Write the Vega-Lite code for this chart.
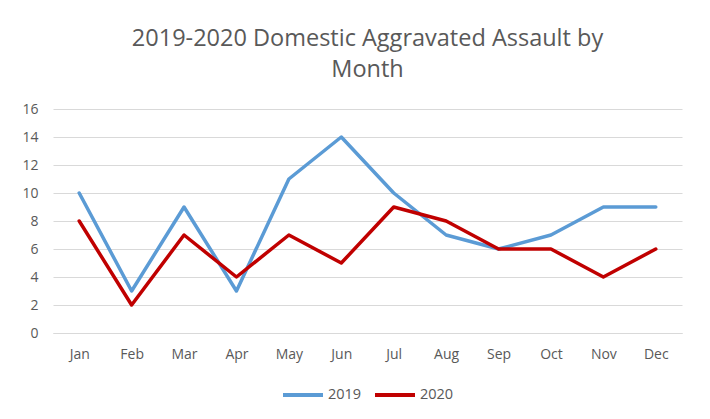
{
  "$schema": "https://vega.github.io/schema/vega-lite/v6.json",
  "autosize": "none",
  "width": 629,
  "height": 224,
  "padding": {"left": 53, "top": 109, "right": 28, "bottom": 86},
  "background": "white",
  "title": {
    "text": ["2019-2020 Domestic Aggravated Assault by", "Month"],
    "font": "Open Sans",
    "fontSize": 23.5,
    "fontWeight": "normal",
    "color": "#595959",
    "lineHeight": 31,
    "anchor": "middle",
    "offset": 21
  },
  "data": {
    "values": [
      {"month": "Jan", "year": "2019", "value": 10},
      {"month": "Feb", "year": "2019", "value": 3},
      {"month": "Mar", "year": "2019", "value": 9},
      {"month": "Apr", "year": "2019", "value": 3},
      {"month": "May", "year": "2019", "value": 11},
      {"month": "Jun", "year": "2019", "value": 14},
      {"month": "Jul", "year": "2019", "value": 10},
      {"month": "Aug", "year": "2019", "value": 7},
      {"month": "Sep", "year": "2019", "value": 6},
      {"month": "Oct", "year": "2019", "value": 7},
      {"month": "Nov", "year": "2019", "value": 9},
      {"month": "Dec", "year": "2019", "value": 9},
      {"month": "Jan", "year": "2020", "value": 8},
      {"month": "Feb", "year": "2020", "value": 2},
      {"month": "Mar", "year": "2020", "value": 7},
      {"month": "Apr", "year": "2020", "value": 4},
      {"month": "May", "year": "2020", "value": 7},
      {"month": "Jun", "year": "2020", "value": 5},
      {"month": "Jul", "year": "2020", "value": 9},
      {"month": "Aug", "year": "2020", "value": 8},
      {"month": "Sep", "year": "2020", "value": 6},
      {"month": "Oct", "year": "2020", "value": 6},
      {"month": "Nov", "year": "2020", "value": 4},
      {"month": "Dec", "year": "2020", "value": 6}
    ]
  },
  "mark": {"type": "line", "strokeWidth": 3.5, "strokeCap": "round", "strokeJoin": "round"},
  "encoding": {
    "x": {
      "field": "month",
      "type": "ordinal",
      "sort": ["Jan","Feb","Mar","Apr","May","Jun","Jul","Aug","Sep","Oct","Nov","Dec"],
      "scale": {"type": "point", "padding": 0.5},
      "axis": {
        "title": null,
        "labelAngle": 0,
        "ticks": false,
        "domain": true,
        "domainColor": "#d9d9d9",
        "labelPadding": 14,
        "labelFont": "Open Sans",
        "labelFontSize": 14,
        "labelColor": "#595959",
        "grid": false
      }
    },
    "y": {
      "field": "value",
      "type": "quantitative",
      "scale": {"domain": [0, 16]},
      "axis": {
        "title": null,
        "values": [0,2,4,6,8,10,12,14,16],
        "ticks": false,
        "domain": false,
        "gridColor": "#d9d9d9",
        "labelPadding": 15,
        "labelFont": "Open Sans",
        "labelFontSize": 14,
        "labelColor": "#595959"
      }
    },
    "color": {
      "field": "year",
      "type": "nominal",
      "scale": {"domain": ["2019", "2020"], "range": ["#5B9BD5", "#C00000"]},
      "legend": {
        "title": null,
        "orient": "bottom",
        "direction": "horizontal",
        "symbolType": "stroke",
        "symbolSize": 1600,
        "symbolStrokeWidth": 4,
        "labelFont": "Open Sans",
        "labelFontSize": 14.5,
        "labelColor": "#595959",
        "labelOffset": 3,
        "columnPadding": 5,
        "offset": 12
      }
    }
  },
  "config": {
    "view": {"stroke": null},
    "legend": {"layout": {"bottom": {"anchor": "middle"}}}
  }
}
